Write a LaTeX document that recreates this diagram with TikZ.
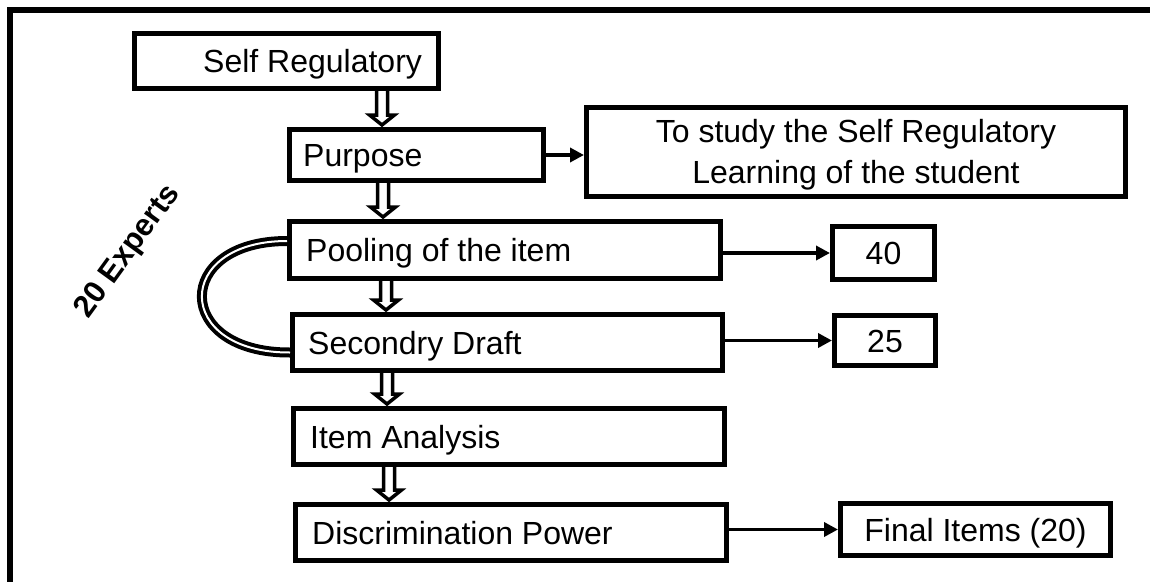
\documentclass[tikz,border=0pt]{standalone}
\usepackage{fontspec}
\setmainfont{Liberation Sans}
\usetikzlibrary{arrows.meta,calc}
\newcommand\holarrow[2]{%
  \draw[hol] ($(#1)+(-5.5,0)$) -- ($(#2)+(-5.5,-12)$) -- ($(#2)+(-12.5,-12)$)
    -- ($(#2)+(0,-2)$) -- ($(#2)+(12.5,-12)$) -- ($(#2)+(5.5,-12)$) -- ($(#1)+(5.5,0)$);}
\begin{document}
\begin{tikzpicture}[x=1pt,y=-1pt,
  box/.style={draw, line width=5pt, fill=white, inner sep=0pt},
  big/.style={font=\fontsize{32}{41}\selectfont},
  lbl/.style={big, inner sep=0pt, text height=23pt, text depth=0pt, anchor=west},
  btxt/.style={big, text height=23pt, text depth=0pt},
  arr/.style={line width=3.5pt, -{Triangle[length=14pt,width=14pt]}},
  hol/.style={draw, fill=white, line width=3.5pt, line join=miter},
  curve/.style={double=white, double distance=2pt, line width=4pt},
  frame/.style={line width=6pt, line cap=rect},
]
\useasboundingbox (0,0) rectangle (1150,581);
\draw[frame] (10,590) -- (10,10) -- (1160,10);

% boxes
\node[box, minimum width=304, minimum height=55] (self) at (286.5,61) {};
\node[box, minimum width=254, minimum height=51] (purp) at (416.5,155) {};
\node[box, minimum width=539, minimum height=89] (goal) at (856,152) {};
\node[box, btxt, minimum width=102, minimum height=53] (forty) at (883.5,253) {40};
\node[box, minimum width=430, minimum height=56] (sec) at (507.5,342.5) {};
\node[box, minimum width=431, minimum height=57] (pool) at (505,250) {};
\node[box, btxt, minimum width=101, minimum height=50] (tfive) at (885,340.5) {25};
\node[box, minimum width=431, minimum height=56] (item) at (509,436.5) {};
\node[box, minimum width=431, minimum height=56] (disc) at (511,532.5) {};
\node[box, btxt, minimum width=270, minimum height=52] (final) at (975.5,529.5) {Final Items (20)};

% labels
\node[big, align=center, inner sep=0pt] (goalt) at (856,155) {To study the Self Regulatory\\Learning of the student};
\node[lbl] (selft) at (203,61) {Self Regulatory};
\node[lbl] (purpt) at (303,155) {Purpose};
\node[lbl] (poolt) at (306,250) {Pooling of the item};
\node[lbl] (sect) at (308,342.5) {Secondry Draft};
\node[lbl] (itemt) at (310,436.5) {Item Analysis};
\node[lbl] (disct) at (312,532.5) {Discrimination Power};

\node[font=\fontsize{31}{36}\selectfont\bfseries, rotate=54, inner sep=0pt] (exp) at (128,252) {20 Experts};

% double (hollow) arrows
\coordinate (a1s) at ([xshift=95.5]self.south);  \coordinate (a1e) at (a1s |- purp.north);
\coordinate (a2s) at ([xshift=-33.5]purp.south); \coordinate (a2e) at (a2s |- pool.north);
\coordinate (a3s) at ([xshift=-119]pool.south);  \coordinate (a3e) at (a3s |- sec.north);
\coordinate (a4s) at ([xshift=-120.5]sec.south); \coordinate (a4e) at (a4s |- item.north);
\coordinate (a5s) at ([xshift=-120]item.south);  \coordinate (a5e) at (a5s |- disc.north);
\holarrow{a1s}{a1e}
\holarrow{a2s}{a2e}
\holarrow{a3s}{a3e}
\holarrow{a4s}{a4e}
\holarrow{a5s}{a5e}

% single arrows
\draw[arr] (purp.east) -- (purp.east -| goal.west);
\draw[arr] (forty.west -| pool.east) -- (forty.west);
\draw[arr] (tfive.west -| sec.east) -- (tfive.west);
\draw[arr] (final.west -| disc.east) -- (final.west);

% curved link
\draw[curve] ([yshift=9]pool.west) .. controls (173,241) and (173,353) .. ([yshift=-10]sec.west);
\end{tikzpicture}
\end{document}
